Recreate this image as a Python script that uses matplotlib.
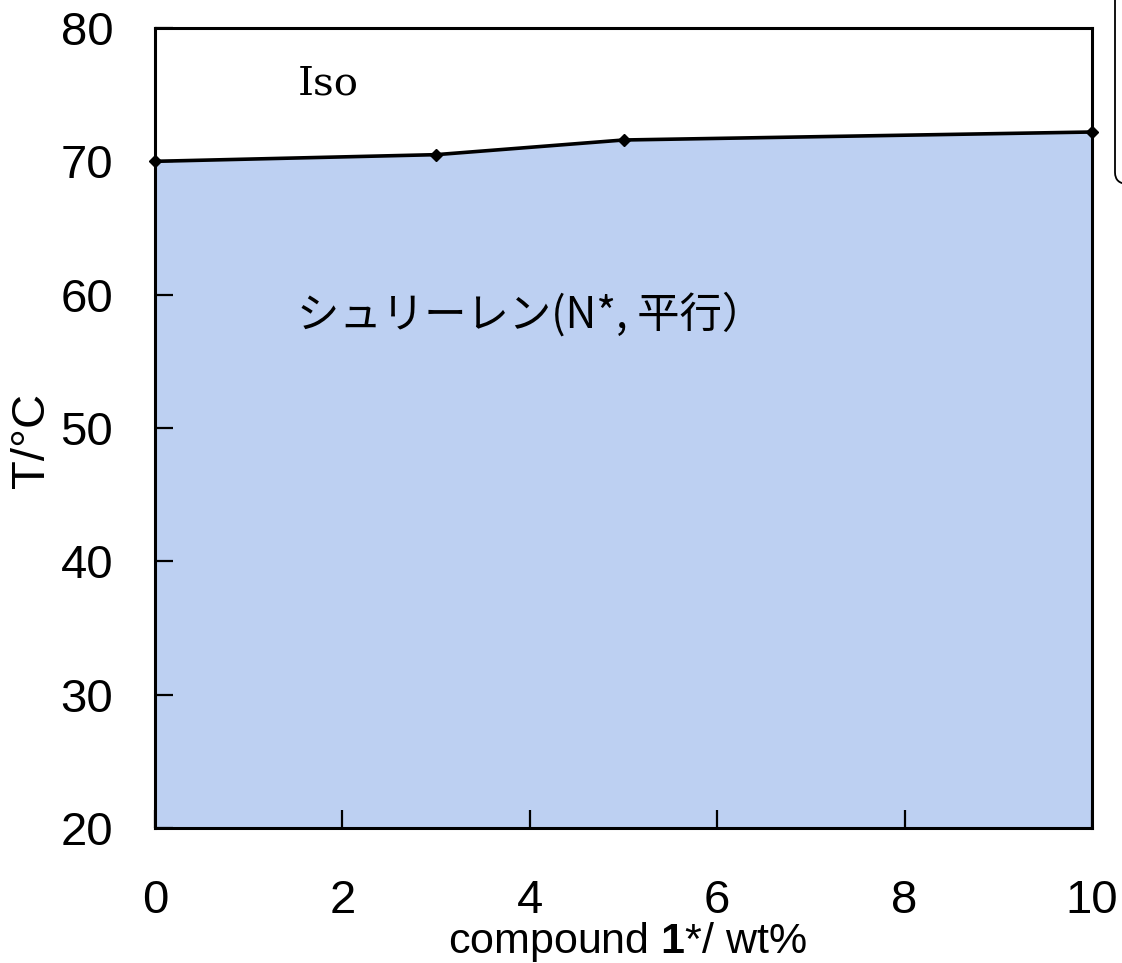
import matplotlib
matplotlib.use("Agg")
import matplotlib.pyplot as plt
from matplotlib.patches import FancyBboxPatch
import numpy as np

# data
conc = [0, 3, 5, 10]
t_iso = [70.0, 70.5, 71.6, 72.2]
xticks = [0, 2, 4, 6, 8, 10]
yticks = [20, 30, 40, 50, 60, 70, 80]

fill_color = "#BDD0F2"
tick_font = ["Liberation Sans", "DejaVu Sans"]

plt.rcParams["mathtext.fontset"] = "custom"
plt.rcParams["mathtext.rm"] = "Liberation Sans"
plt.rcParams["mathtext.bf"] = "Liberation Sans:bold"

W, H = 1122, 963
fig = plt.figure(figsize=(W / 100, H / 100), dpi=100)
ax = fig.add_axes([155 / W, 1 - 828 / H, (1092 - 155) / W, 800 / H])

ax.fill_between(conc, 20, t_iso, color=fill_color, linewidth=0, zorder=1)
ax.plot(conc, t_iso, color="black", linewidth=2.6, marker="D", markersize=6,
        clip_on=False, zorder=3)

ax.set_xlim(0, 10)
ax.set_ylim(20, 80)
ax.set_xticks(xticks)
ax.set_yticks(yticks)
ax.set_xticklabels([str(v) for v in xticks], family=tick_font, fontsize=34)
ax.set_yticklabels([str(v) for v in yticks], family=tick_font, fontsize=34)
ax.tick_params(axis="both", direction="in", length=13, width=1.6,
               top=False, right=False)
ax.tick_params(axis="x", pad=37)
ax.tick_params(axis="y", pad=30)
for s in ax.spines.values():
    s.set_linewidth(2.2)
    s.set_zorder(4)

ax.set_xlabel(r"compound $\mathbf{1}$*/ wt%", family="Liberation Sans",
              fontsize=31, va="baseline")
ax.xaxis.set_label_coords(0.504, -0.156)
ax.set_ylabel("T/°C", family="Liberation Sans", fontsize=34, va="center")
ax.yaxis.set_label_coords(-0.131, 0.485)

ax.text(0.152, 0.93, "Iso", transform=ax.transAxes, family="DejaVu Serif",
        fontsize=29, va="center", ha="left")
ax.text(0.152, 0.641, "シュリーレン(N*, 平行）", transform=ax.transAxes,
        family=["Noto Sans CJK JP", "DejaVu Sans"], fontsize=30.5,
        va="center", ha="left")

# partially visible rounded box at top-right
box = FancyBboxPatch((1115 / W, 1 - 184 / H), 0.2, 0.3,
                     boxstyle="round,pad=0,rounding_size=0.012",
                     transform=fig.transFigure, facecolor="none",
                     edgecolor="black", linewidth=1.3, clip_on=False)
fig.patches.append(box)

fig.savefig("out.png", dpi=100)
